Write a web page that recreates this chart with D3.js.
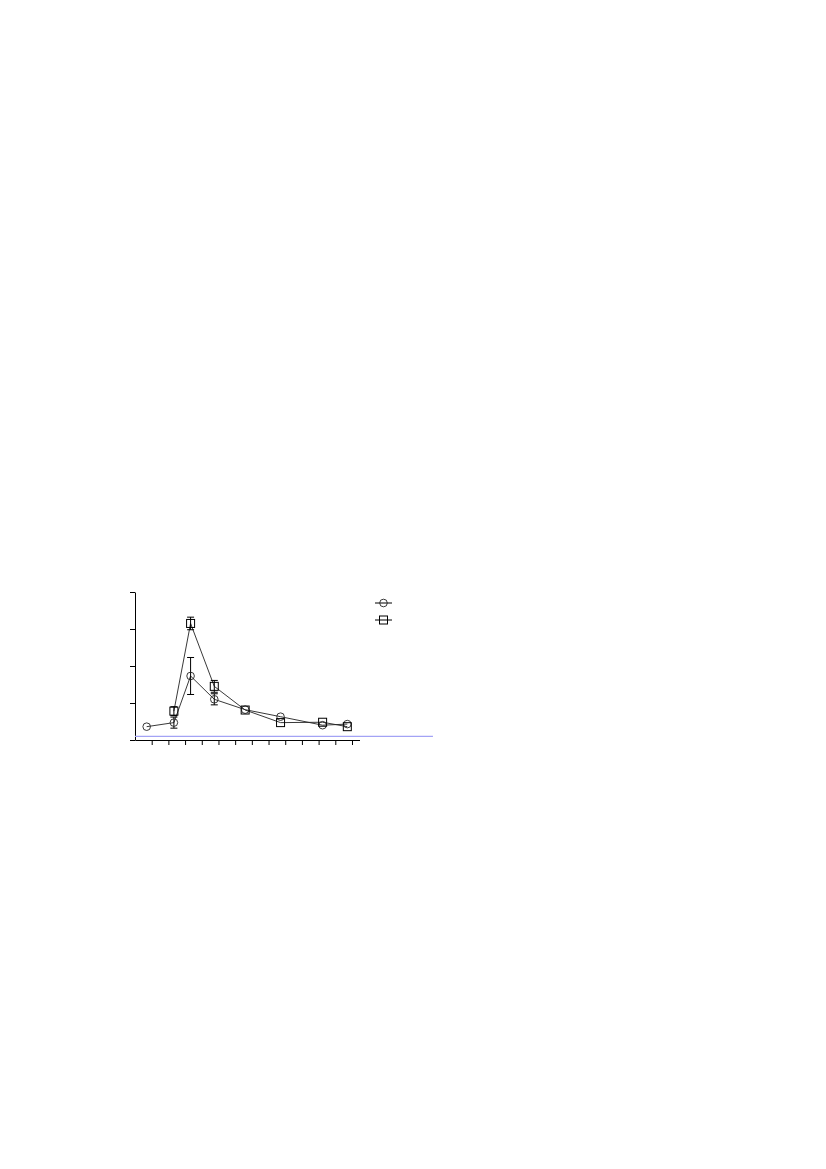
<!DOCTYPE html>
<html>
<head>
<meta charset="utf-8">
<script src="https://cdn.jsdelivr.net/npm/d3@7"></script>
<style>
  body { margin: 0; background: #fff; }
</style>
</head>
<body>
<script>
// page size
var svgWidth = 826;
var svgHeight = 1169;

// chart values
var xValues = [0.7, 2.33, 3.33, 4.75, 6.6, 8.72, 11.24, 12.72];
var circleValues = [0.36, 0.47, 1.73, 1.10, 0.82, 0.63, 0.40, 0.43];
var circleErrors = [0, 0.15, 0.5, 0.15, 0, 0, 0, 0];
var squareX = [2.33, 3.33, 4.75, 6.6, 8.72, 11.24, 12.72];
var squareValues = [0.78, 3.15, 1.45, 0.81, 0.47, 0.48, 0.36];
var squareErrors = [0.12, 0.17, 0.16, 0, 0, 0, 0];
var xTicks = [1, 2, 3, 4, 5, 6, 7, 8, 9, 10, 11, 12, 13];
var yTicks = [0, 1, 2, 3, 4];
var baseline = [{ x: 0, y: 0.1 }, { x: 17.85, y: 0.1 }];

var svg = d3.select("body")
  .append("svg")
  .attr("width", svgWidth)
  .attr("height", svgHeight);

var xScale = d3.scaleLinear()
  .domain([0, 13.45])
  .range([135, 359.5]);

var yScale = d3.scaleLinear()
  .domain([0, 4])
  .range([740, 592]);

// axes, no labels
var bottomAxis = d3.axisBottom(xScale).tickValues(xTicks).tickFormat("").tickSize(5).tickSizeOuter(0);
var leftAxis = d3.axisLeft(yScale).tickValues(yTicks).tickFormat("").tickSize(5).tickSizeOuter(0);

svg.append("g")
  .attr("transform", "translate(0," + yScale(0) + ")")
  .call(bottomAxis);

svg.append("g")
  .attr("transform", "translate(" + xScale(0) + ",0)")
  .call(leftAxis);

svg.selectAll(".domain, .tick line").attr("stroke", "#000").attr("stroke-width", 1);

// blue reference line
svg.append("path")
  .datum(baseline)
  .attr("fill", "none")
  .attr("stroke", "#a3a3f5")
  .attr("stroke-width", 1.2)
  .attr("d", d3.line().x(d => xScale(d.x)).y(d => yScale(d.y)));

var circleData = xValues.map((x, i) => ({ x: x, y: circleValues[i], e: circleErrors[i] }));
var squareData = squareX.map((x, i) => ({ x: x, y: squareValues[i], e: squareErrors[i] }));

var line = d3.line().x(d => xScale(d.x)).y(d => yScale(d.y));

function drawSeries(data, shape) {
  var g = svg.append("g");
  g.append("path")
    .datum(data)
    .attr("fill", "none")
    .attr("stroke", "#222")
    .attr("stroke-width", 0.9)
    .attr("d", line);

  // error bars
  var err = g.selectAll(".err")
    .data(data.filter(d => d.e > 0))
    .enter()
    .append("g")
    .attr("stroke", "#000")
    .attr("stroke-width", 1);
  err.append("line")
    .attr("x1", d => xScale(d.x)).attr("x2", d => xScale(d.x))
    .attr("y1", d => yScale(d.y + d.e)).attr("y2", d => yScale(d.y - d.e));
  err.append("line")
    .attr("x1", d => xScale(d.x) - 3.5).attr("x2", d => xScale(d.x) + 3.5)
    .attr("y1", d => yScale(d.y + d.e)).attr("y2", d => yScale(d.y + d.e));
  err.append("line")
    .attr("x1", d => xScale(d.x) - 3.5).attr("x2", d => xScale(d.x) + 3.5)
    .attr("y1", d => yScale(d.y - d.e)).attr("y2", d => yScale(d.y - d.e));

  if (shape === "circle") {
    g.selectAll("circle")
      .data(data)
      .enter()
      .append("circle")
      .attr("cx", d => xScale(d.x))
      .attr("cy", d => yScale(d.y))
      .attr("r", 3.8)
      .attr("fill", "none")
      .attr("stroke", "#222")
      .attr("stroke-width", 0.9);
  } else {
    g.selectAll("rect")
      .data(data)
      .enter()
      .append("rect")
      .attr("x", d => xScale(d.x) - 4)
      .attr("y", d => yScale(d.y) - 4)
      .attr("width", 8)
      .attr("height", 8)
      .attr("fill", "none")
      .attr("stroke", "#000")
      .attr("stroke-width", 1);
  }
}

drawSeries(circleData, "circle");
drawSeries(squareData, "square");

// legend (symbols only)
var legend = svg.append("g").attr("transform", "translate(375,603)");
legend.append("line").attr("x1", 0).attr("x2", 17).attr("y1", 0).attr("y2", 0).attr("stroke", "#000");
legend.append("circle").attr("cx", 8.5).attr("cy", 0).attr("r", 3.8)
  .attr("fill", "none").attr("stroke", "#222").attr("stroke-width", 0.9);
legend.append("line").attr("x1", 0).attr("x2", 17).attr("y1", 17).attr("y2", 17).attr("stroke", "#000");
legend.append("rect").attr("x", 4.5).attr("y", 13).attr("width", 8).attr("height", 8)
  .attr("fill", "none").attr("stroke", "#000");
</script>
</body>
</html>
